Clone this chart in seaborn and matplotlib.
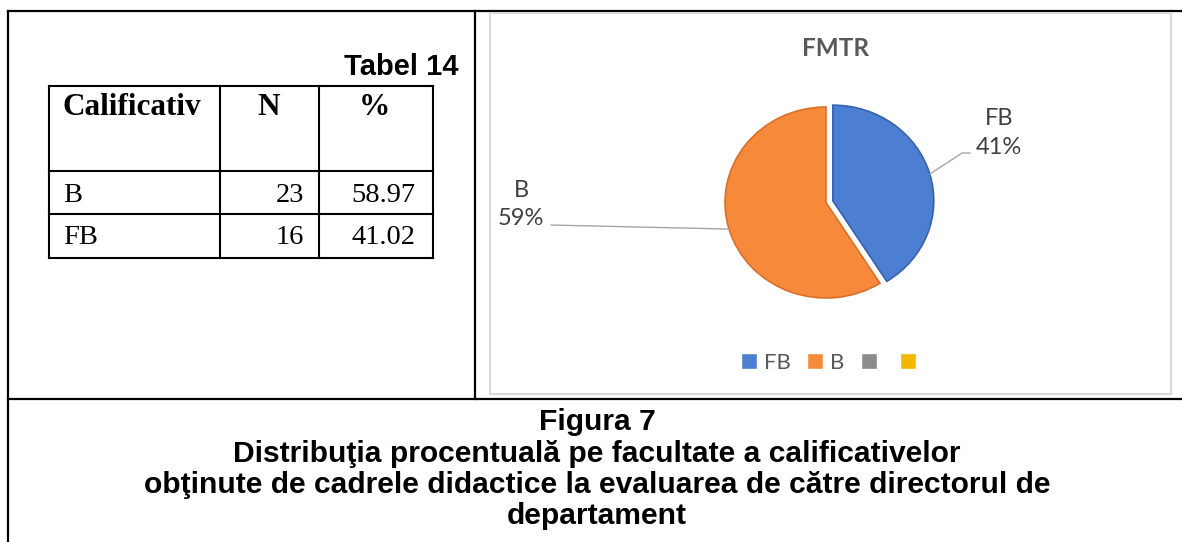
import seaborn as sns
import matplotlib.pyplot as plt
from matplotlib.patches import Patch
import numpy as np

sns.set_theme(style="white")

# table data
table_header = ["Calificativ", "N", "%"]
table_rows = ["B", "FB"]
table_n = [23, 16]
table_pct = ["58.97", "41.02"]

# pie data
pie_title = "FMTR"
pie_cats = ["FB", "B"]
pie_counts = [16, 23]
pie_colors = ["#4C7ED1", "#F68A3A"]
pie_edges = ["#3762AE", "#D9702A"]
legend_extra = ["#8C8C8C", "#F2B800"]

table_title = "Tabel 14"
caption = [
    "Figura 7",
    "Distribuţia procentuală pe facultate a calificativelor",
    "obţinute de cadrele didactice la evaluarea de către directorul de",
    "departament",
]

W, H = 1182, 542
fig = plt.figure(figsize=(W / 100, H / 100), dpi=100)

# page layer in pixel coords
page = fig.add_axes([0, 0, 1, 1])
page.set_xlim(0, W)
page.set_ylim(H, 0)
page.axis("off")

blk = dict(color="black", lw=1.6, solid_capstyle="projecting")
page.plot([8, W], [11, 11], **blk)
page.plot([8, 8], [11, H], **blk)
page.plot([475, 475], [11, 399], **blk)
page.plot([8, W], [399, 399], **blk)
# chart box
page.plot([490, 1171, 1171, 490, 490], [13, 13, 394, 394, 13], color="#D9D9D9", lw=1.5)

# table
col_x = [49, 220, 319, 433]
row_y = [86, 171, 214, 258]
tl = dict(color="black", lw=1.5, solid_capstyle="projecting")
for x in col_x:
    page.plot([x, x], [row_y[0], row_y[-1]], **tl)
for y in row_y:
    page.plot([col_x[0], col_x[-1]], [y, y], **tl)

serif = ["Liberation Serif", "DejaVu Serif"]
hdr = dict(family=serif, weight="bold", fontsize=22.5, va="baseline", color="black")
page.text(63, 115, table_header[0], ha="left", **hdr)
page.text(269, 115, table_header[1], ha="center", **hdr)
page.text(374, 115, table_header[2], ha="center", **hdr)
cell = dict(family=serif, fontsize=20.5, va="baseline", color="black")
for i, (cat, n, p) in enumerate(zip(table_rows, table_n, table_pct)):
    base = [202, 244][i]
    page.text(63, base, cat, ha="left", **cell)
    page.text(304, base, str(n), ha="right", **cell)
    page.text(415, base, p, ha="right", **cell)

sans = ["Liberation Sans", "DejaVu Sans"]
page.text(458, 75, table_title, family=sans, weight="bold", fontsize=21, va="baseline",
          ha="right", color="black")

for i, line in enumerate(caption):
    page.text(597, 430 + i * 31.5, line, family=sans, weight="bold", fontsize=21.6,
              va="baseline", ha="center", color="black")

# pie
cx, cy, rx, ry = 826, 202.5, 101, 95.5
lim = 1.3
ax = fig.add_axes([(cx - lim * rx) / W, (H - cy - lim * ry) / H, 2 * lim * rx / W, 2 * lim * ry / H])
ex = 0.07
wedges, _ = ax.pie(pie_counts, colors=pie_colors, startangle=90, counterclock=False,
                   explode=[ex, 0], wedgeprops=dict(linewidth=1.2))
for w_, ec in zip(wedges, pie_edges):
    w_.set_edgecolor(ec)
ax.set_aspect("auto")
ax.set_xlim(-lim, lim)
ax.set_ylim(-lim, lim)
ax.axis("off")

lab = ["Lato", "DejaVu Sans"]
txt_col = "#404040"
total = sum(pie_counts)
pcts = [round(100 * c / total) for c in pie_counts]

th_fb = np.deg2rad(90 - 0.5 * 360 * pie_counts[0] / total)
th_b = np.deg2rad(90 - 360 * pie_counts[0] / total - 0.5 * 360 * pie_counts[1] / total)
s_fb = (1 + ex) * np.cos(th_fb), (1 + ex) * np.sin(th_fb)
s_b = np.cos(th_b), np.sin(th_b)
ax.plot([s_fb[0], 1.347, 1.426], [s_fb[1], 0.518, 0.518], color="#A6A6A6", lw=1, clip_on=False)
ax.plot([s_b[0], -2.723], [s_b[1], -0.236], color="#A6A6A6", lw=1, clip_on=False)
ax.text(1.713, 0.73, f"{pie_cats[0]}\n{pcts[0]}%", family=lab, fontsize=17, color=txt_col,
        ha="center", va="center", linespacing=1.5)
ax.text(-3.02, -0.02, f"{pie_cats[1]}\n{pcts[1]}%", family=lab, fontsize=17, color=txt_col,
        ha="center", va="center", linespacing=1.45)

page.text(835, 48, pie_title, family=lab, weight="bold", fontsize=17.5, color="#595959",
          ha="center", va="center")

handles = [Patch(facecolor=c) for c in pie_colors + legend_extra]
labels = pie_cats + ["", ""]
leg = fig.legend(handles, labels, loc="center", bbox_to_anchor=(832 / W, 1 - 363 / H),
                 ncol=4, frameon=False, handlelength=0.7, handleheight=0.7,
                 handletextpad=0.32, columnspacing=0.75, borderpad=0,
                 prop=dict(family=lab, size=16))
for t in leg.get_texts():
    t.set_color("#595959")

fig.savefig("out.png", dpi=100, facecolor="white")
